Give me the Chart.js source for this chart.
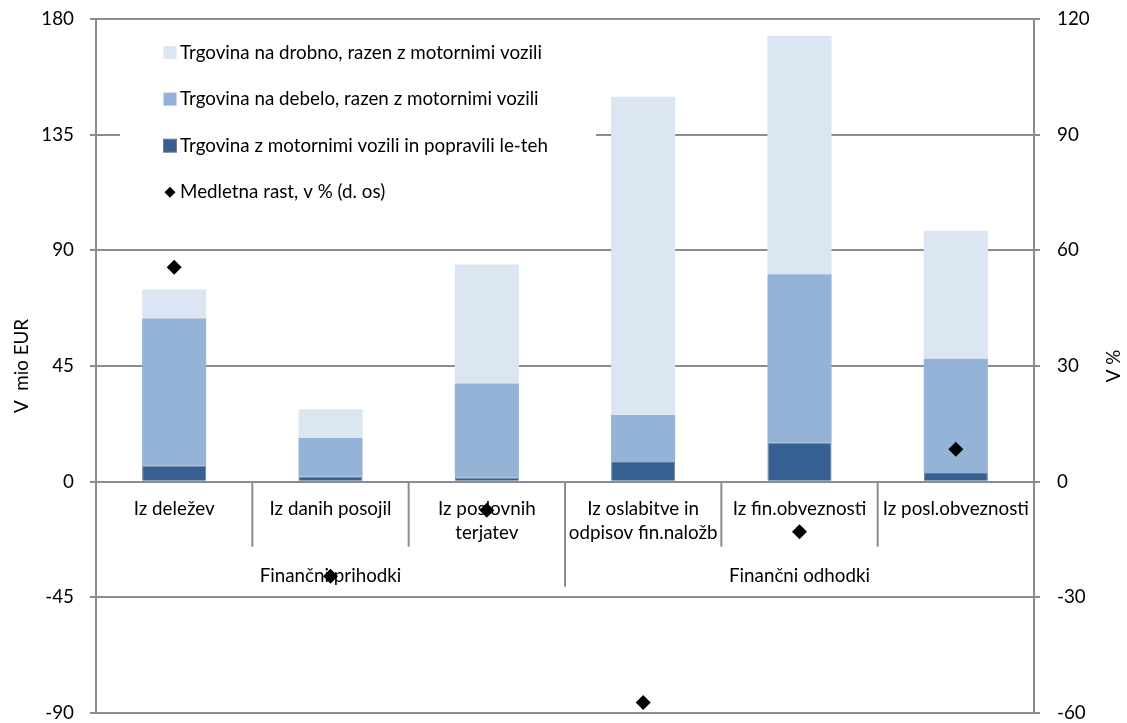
<!DOCTYPE html>
<html>
<head>
<meta charset="utf-8">
<script src="https://cdn.jsdelivr.net/npm/chart.js@4.4.1/dist/chart.umd.min.js"></script>
<style>
  html, body { margin: 0; padding: 0; background: #fff; }
  #wrap { width: 1127px; height: 723px; }
</style>
</head>
<body>
<div id="wrap"><canvas id="chart" width="1127" height="723"></canvas></div>
<script>
// data
const categories = [
    ['Iz deležev'],
    ['Iz danih posojil'],
    ['Iz poslovnih', 'terjatev'],
    ['Iz oslabitve in', 'odpisov fin.naložb'],
    ['Iz fin.obveznosti'],
    ['Iz posl.obveznosti']
];
const groups = ['Finančni prihodki', 'Finančni odhodki'];
const groupSize = 3;

const motorRepair = [6.2, 1.9, 1.6, 7.9, 15.1, 3.4];
const wholesale   = [57.3, 15.1, 36.6, 18.0, 65.6, 44.4];
const retail      = [11.3, 11.2, 46.3, 123.9, 92.8, 49.8];
const growth      = [55.6, -24.5, -7.4, -57.3, -13.0, 8.4];

const leftRange = [-90, 180];
const leftStep = 45;
const rightRange = [-60, 120];
const rightStep = 30;

const FONT = 'Lato';
const FS = 18.8;
const GRID = '#8c8c8c';

// x axis labels, separators and group names drawn under the zero line
const xLabels = {
    id: 'xLabels',
    beforeDatasetsDraw(chart) {
        const c = chart.ctx, xs = chart.scales.x;
        const y0 = chart.scales.y.getPixelForValue(0);
        const n = categories.length;
        c.save();
        c.strokeStyle = GRID;
        c.lineWidth = 2;
        for (let i = 1; i < n; i++) {
            const bx = (xs.getPixelForValue(i - 1) + xs.getPixelForValue(i)) / 2;
            const len = (i % groupSize === 0) ? 105 : 65;
            c.beginPath();
            c.moveTo(bx, y0);
            c.lineTo(bx, y0 + len);
            c.stroke();
        }
        c.fillStyle = '#000';
        c.font = FS + 'px ' + FONT;
        c.textAlign = 'center';
        c.textBaseline = 'middle';
        categories.forEach((lines, i) => {
            const x = xs.getPixelForValue(i);
            lines.forEach((t, k) => c.fillText(t, x, y0 + 27 + k * 24));
        });
        groups.forEach((g, gi) => {
            const a = xs.getPixelForValue(gi * groupSize);
            const b = xs.getPixelForValue(gi * groupSize + groupSize - 1);
            c.fillText(g, (a + b) / 2, y0 + 94);
        });
        c.restore();
    }
};

// legend box inside the plot, top left
const boxLegend = {
    id: 'boxLegend',
    beforeDatasetsDraw(chart) {
        const c = chart.ctx;
        const order = [2, 1, 0, 3];
        c.save();
        c.fillStyle = '#fff';
        c.fillRect(120, 28, 476, 186);
        c.font = FS + 'px ' + FONT;
        c.textBaseline = 'middle';
        c.textAlign = 'left';
        order.forEach((di, k) => {
            const ds = chart.data.datasets[di];
            const cy = 52.5 + k * 46.6;
            if (ds.type === 'line') {
                c.fillStyle = '#000';
                c.beginPath();
                c.moveTo(170, cy - 5.5);
                c.lineTo(175.5, cy);
                c.lineTo(170, cy + 5.5);
                c.lineTo(164.5, cy);
                c.closePath();
                c.fill();
            } else {
                c.fillStyle = ds.backgroundColor;
                c.fillRect(163.5, cy - 6.5, 13, 13);
                if (ds.borderWidth) {
                    c.strokeStyle = ds.borderColor;
                    c.lineWidth = 1;
                    c.strokeRect(163.5, cy - 6.5, 13, 13);
                }
            }
            c.fillStyle = '#000';
            c.fillText(ds.label, 180, cy);
        });
        c.restore();
    }
};

// right axis title reads bottom to top, like the left one
const rightTitle = {
    id: 'rightTitle',
    afterDraw(chart) {
        const c = chart.ctx;
        const a = chart.chartArea;
        c.save();
        c.translate(1114, (a.top + a.bottom) / 2);
        c.rotate(-Math.PI / 2);
        c.font = FS + 'px ' + FONT;
        c.fillStyle = '#000';
        c.textAlign = 'center';
        c.textBaseline = 'middle';
        c.fillText('V %', 0, 0);
        c.restore();
    }
};

function fitY(width) {
    return function (s) {
        s.width = width;
        s.paddingTop = 0;
        s.paddingBottom = 0;
    };
}

const ctx = document.getElementById('chart').getContext('2d');
const chart = new Chart(ctx, {
    type: 'bar',
    data: {
        labels: categories.map(l => l.join(' ')),
        datasets: [{
            label: 'Trgovina z motornimi vozili in popravili le-teh',
            data: motorRepair,
            backgroundColor: '#376092',
            borderColor: '#6f7f92',
            borderWidth: 1,
            yAxisID: 'y',
            order: 2
        }, {
            label: 'Trgovina na debelo, razen z motornimi vozili',
            data: wholesale,
            backgroundColor: '#95b3d7',
            borderWidth: 0,
            yAxisID: 'y',
            order: 2
        }, {
            label: 'Trgovina na drobno, razen z motornimi vozili',
            data: retail,
            backgroundColor: '#dce6f2',
            borderWidth: 0,
            yAxisID: 'y',
            order: 2
        }, {
            type: 'line',
            label: 'Medletna rast, v % (d. os)',
            data: growth,
            yAxisID: 'y1',
            showLine: false,
            pointStyle: 'rectRot',
            pointRadius: 7.5,
            pointBackgroundColor: '#000',
            pointBorderColor: '#000',
            pointBorderWidth: 0,
            order: 1
        }]
    },
    options: {
        responsive: false,
        animation: false,
        layout: { padding: { top: 19, bottom: 10 } },
        datasets: {
            bar: { categoryPercentage: 1, barPercentage: 0.41 }
        },
        plugins: {
            legend: { display: false },
            tooltip: { enabled: false }
        },
        scales: {
            x: {
                display: false,
                stacked: true,
                offset: true
            },
            y: {
                position: 'left',
                stacked: true,
                min: leftRange[0],
                max: leftRange[1],
                ticks: { stepSize: leftStep, color: '#000', padding: 16, font: { family: FONT, size: FS } },
                grid: { color: GRID, lineWidth: 2, tickLength: 6 },
                border: { color: GRID, width: 2 },
                title: {
                    display: true,
                    text: 'V  mio EUR',
                    color: '#000',
                    font: { family: FONT, size: FS },
                    padding: { top: 11, bottom: 0 }
                },
                afterFit: fitY(96)
            },
            y1: {
                position: 'right',
                min: rightRange[0],
                max: rightRange[1],
                ticks: { stepSize: rightStep, color: '#000', padding: 17, font: { family: FONT, size: FS } },
                grid: { drawOnChartArea: false, color: GRID, lineWidth: 2, tickLength: 6 },
                border: { color: GRID, width: 2 },
                afterFit: fitY(93)
            }
        }
    },
    plugins: [xLabels, boxLegend, rightTitle]
});
</script>
</body>
</html>
